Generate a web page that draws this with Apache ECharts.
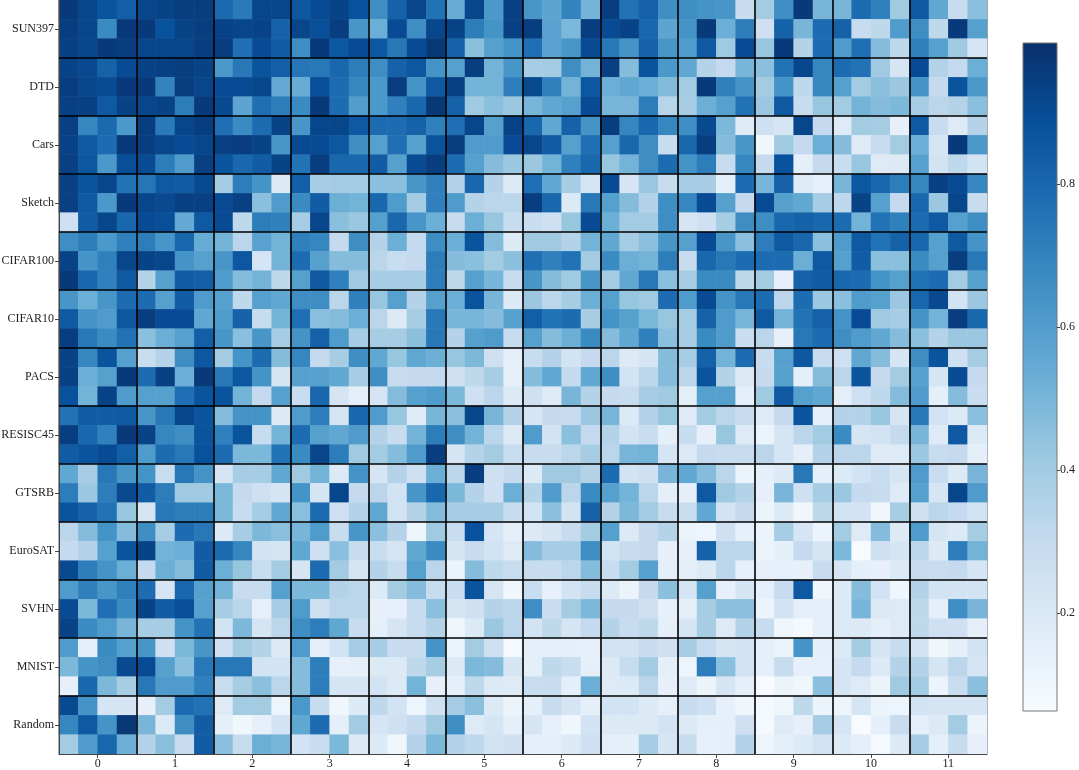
<!DOCTYPE html>
<html>
<head>
<meta charset="utf-8">
<title>heatmap</title>
<script src="https://cdn.jsdelivr.net/npm/echarts@6.0.0/dist/echarts.min.js"></script>
<style>
  html, body { margin: 0; padding: 0; background: #fff; }
  #chart { width: 1079px; height: 770px; }
</style>
</head>
<body>
<div id="chart"></div>
<script>
// row groups (3 rows each), column groups (4 columns each)
var rowGroups = ['SUN397', 'DTD', 'Cars', 'Sketch', 'CIFAR100', 'CIFAR10', 'PACS', 'RESISC45', 'GTSRB', 'EuroSAT', 'SVHN', 'MNIST', 'Random'];
var colGroups = ['0', '1', '2', '3', '4', '5', '6', '7', '8', '9', '10', '11'];
var colorTicks = [0.2, 0.4, 0.6, 0.8];

var sun397 = [
  [.96,.92,.87,.83,.92,.93,.95,.95,.79,.73,.92,.92,.86,.90,.93,.88, .66,.82,.92,.76,.54,.92,.62,.94,.63,.57,.70,.51,.95,.76,.82,.66, .66,.64,.63,.29,.40,.66,.96,.50,.50,.78,.71,.41,.85,.56,.29,.46],
  [.95,.92,.67,.96,.96,.88,.93,.95,.93,.92,.93,.82,.92,.89,.95,.63, .53,.90,.66,.92,.93,.72,.64,.94,.95,.58,.49,.95,.90,.93,.80,.57, .64,.96,.53,.72,.26,.82,.50,.78,.82,.29,.32,.61,.66,.32,.96,.59],
  [.94,.92,.96,.95,.92,.92,.92,.95,.95,.77,.90,.84,.66,.96,.86,.90, .86,.74,.90,.97,.82,.46,.59,.64,.77,.58,.63,.90,.74,.64,.82,.63, .61,.85,.41,.90,.43,.96,.35,.78,.61,.77,.47,.32,.71,.59,.41,.22]
];
var dtd = [
  [.93,.91,.82,.90,.93,.94,.95,.93,.62,.74,.87,.83,.75,.74,.80,.72, .66,.82,.86,.64,.59,.95,.51,.63,.39,.40,.66,.51,.94,.47,.87,.62, .56,.35,.30,.50,.46,.76,.92,.69,.78,.76,.41,.22,.90,.35,.30,.53],
  [.95,.92,.90,.96,.96,.70,.95,.92,.90,.90,.92,.55,.54,.89,.78,.69, .62,.95,.64,.85,.94,.51,.51,.72,.91,.71,.51,.86,.53,.56,.53,.48, .40,.96,.71,.64,.40,.64,.32,.69,.59,.40,.46,.42,.64,.30,.87,.62],
  [.94,.94,.85,.93,.92,.93,.72,.96,.91,.57,.77,.72,.67,.96,.78,.60, .62,.71,.80,.97,.82,.41,.46,.42,.50,.56,.59,.90,.50,.50,.72,.34, .39,.53,.59,.76,.42,.85,.29,.43,.40,.51,.47,.49,.39,.33,.35,.46]
];
var cars = [
  [.94,.69,.79,.62,.95,.73,.92,.95,.77,.67,.78,.93,.63,.92,.92,.85, .78,.78,.82,.71,.77,.92,.59,.93,.80,.56,.82,.64,.95,.69,.80,.69, .66,.91,.49,.18,.26,.22,.92,.30,.18,.40,.39,.14,.85,.29,.18,.35],
  [.93,.85,.78,.96,.95,.92,.90,.92,.94,.95,.93,.63,.91,.90,.86,.66, .59,.77,.59,.87,.95,.61,.61,.90,.92,.84,.59,.77,.59,.80,.66,.29, .80,.95,.47,.63,.10,.41,.30,.53,.47,.18,.29,.40,.53,.22,.96,.62],
  [.94,.86,.62,.89,.90,.72,.61,.94,.87,.80,.84,.93,.76,.95,.80,.80, .84,.59,.90,.95,.78,.59,.47,.42,.42,.51,.71,.80,.43,.51,.66,.78, .64,.72,.29,.69,.30,.88,.15,.30,.28,.43,.18,.19,.59,.24,.32,.24]
];
var sketch = [
  [.94,.87,.92,.76,.75,.85,.84,.91,.40,.72,.64,.19,.83,.39,.40,.40, .46,.46,.63,.71,.35,.80,.35,.19,.77,.56,.39,.22,.90,.22,.42,.29, .39,.39,.15,.78,.50,.82,.18,.14,.50,.86,.80,.72,.69,.94,.90,.69],
  [.94,.85,.62,.96,.92,.91,.94,.94,.90,.94,.46,.61,.67,.84,.53,.51, .80,.61,.40,.71,.61,.35,.33,.33,.95,.80,.19,.74,.59,.47,.35,.66, .69,.90,.59,.30,.90,.59,.56,.39,.32,.93,.59,.30,.80,.42,.92,.29],
  [.26,.84,.92,.80,.90,.89,.55,.85,.90,.32,.72,.71,.39,.92,.46,.42, .59,.80,.63,.53,.29,.53,.43,.29,.28,.26,.43,.90,.53,.40,.40,.66, .22,.26,.39,.66,.66,.80,.82,.80,.78,.51,.76,.71,.78,.85,.59,.66]
];
var cifar100 = [
  [.66,.72,.62,.71,.72,.63,.80,.54,.51,.33,.58,.51,.71,.69,.30,.66, .35,.53,.30,.66,.53,.87,.47,.19,.41,.41,.35,.51,.56,.39,.46,.63, .59,.90,.63,.46,.72,.85,.80,.46,.61,.85,.76,.82,.80,.59,.85,.64],
  [.93,.64,.71,.92,.93,.92,.64,.59,.63,.86,.22,.51,.78,.59,.47,.47, .33,.28,.30,.72,.47,.46,.40,.46,.77,.71,.76,.40,.67,.53,.51,.72, .29,.80,.74,.78,.78,.78,.53,.85,.59,.84,.46,.46,.67,.59,.95,.74],
  [.96,.80,.71,.85,.35,.59,.84,.83,.61,.47,.51,.32,.59,.85,.71,.41, .39,.39,.39,.72,.32,.59,.50,.29,.63,.47,.41,.63,.40,.56,.74,.46, .39,.67,.67,.32,.40,.14,.82,.84,.80,.78,.64,.59,.76,.78,.40,.59]
];
var cifar10 = [
  [.63,.53,.63,.78,.78,.59,.84,.61,.59,.32,.59,.56,.66,.66,.33,.71, .43,.59,.35,.59,.53,.87,.50,.19,.42,.33,.39,.53,.59,.43,.41,.78, .61,.90,.64,.74,.78,.33,.78,.42,.46,.61,.59,.42,.80,.91,.24,.42],
  [.85,.64,.61,.86,.95,.90,.90,.56,.61,.82,.29,.51,.77,.46,.47,.53, .33,.19,.39,.74,.50,.50,.47,.59,.83,.76,.78,.39,.64,.59,.49,.43, .39,.82,.61,.50,.85,.51,.76,.82,.64,.90,.41,.39,.64,.51,.95,.80],
  [.95,.74,.67,.76,.46,.53,.59,.83,.63,.46,.63,.39,.64,.82,.61,.39, .39,.39,.46,.74,.35,.59,.61,.29,.59,.47,.53,.67,.47,.56,.71,.46, .39,.67,.61,.28,.33,.14,.74,.78,.66,.61,.56,.47,.46,.35,.42,.42]
];
var pacs = [
  [.93,.69,.87,.59,.28,.35,.66,.86,.40,.64,.78,.47,.69,.30,.39,.66, .56,.43,.56,.53,.43,.49,.26,.15,.29,.35,.24,.30,.33,.19,.22,.47, .39,.82,.51,.78,.29,.59,.86,.29,.26,.56,.47,.22,.66,.87,.26,.39],
  [.94,.53,.59,.96,.78,.94,.53,.96,.74,.86,.64,.22,.59,.59,.56,.39, .66,.29,.30,.30,.26,.32,.39,.14,.47,.56,.30,.56,.66,.24,.33,.47, .33,.87,.35,.19,.30,.59,.15,.47,.33,.87,.30,.40,.59,.22,.90,.30],
  [.88,.51,.93,.61,.59,.59,.77,.87,.87,.51,.30,.59,.28,.80,.22,.15, .22,.47,.59,.61,.49,.26,.33,.19,.26,.18,.50,.35,.30,.29,.39,.41, .15,.59,.59,.15,.41,.85,.59,.56,.15,.26,.32,.47,.61,.15,.47,.28]
];
var resisc45 = [
  [.76,.84,.84,.85,.63,.74,.92,.87,.47,.64,.64,.19,.61,.72,.22,.80, .61,.43,.18,.50,.46,.92,.50,.35,.22,.30,.29,.42,.50,.19,.35,.43, .18,.40,.33,.29,.18,.30,.87,.15,.35,.35,.43,.22,.74,.24,.19,.46],
  [.95,.80,.71,.96,.93,.69,.66,.87,.71,.87,.29,.51,.78,.59,.56,.61, .35,.29,.51,.72,.66,.51,.33,.19,.61,.24,.46,.30,.35,.24,.28,.15, .29,.14,.43,.18,.12,.22,.33,.40,.67,.22,.24,.30,.50,.18,.85,.19],
  [.84,.87,.90,.83,.61,.78,.74,.88,.78,.49,.49,.76,.67,.92,.72,.41, .40,.47,.61,.95,.22,.35,.40,.28,.29,.29,.33,.39,.33,.50,.51,.22, .19,.30,.29,.29,.33,.22,.15,.35,.33,.33,.18,.18,.42,.29,.30,.15]
];
var gtsrb = [
  [.56,.39,.74,.63,.64,.28,.74,.64,.22,.39,.39,.56,.41,.51,.19,.64, .22,.35,.26,.53,.33,.95,.26,.30,.19,.41,.41,.35,.78,.24,.26,.50, .56,.47,.33,.12,.15,.19,.74,.15,.19,.24,.28,.22,.61,.28,.19,.50],
  [.72,.42,.72,.91,.84,.72,.41,.41,.49,.30,.26,.22,.64,.22,.92,.30, .33,.24,.63,.80,.49,.35,.26,.53,.35,.61,.33,.67,.59,.51,.33,.15, .15,.85,.41,.35,.14,.50,.26,.39,.42,.30,.29,.18,.59,.22,.92,.61],
  [.87,.82,.76,.43,.22,.74,.72,.72,.49,.29,.39,.56,.46,.78,.26,.35, .56,.24,.35,.47,.39,.39,.39,.29,.24,.46,.24,.82,.35,.49,.40,.29, .28,.56,.24,.30,.12,.19,.10,.32,.24,.24,.10,.39,.26,.33,.30,.24]
];
var eurosat = [
  [.33,.47,.64,.47,.66,.39,.78,.74,.19,.39,.49,.46,.50,.61,.29,.63, .46,.35,.11,.41,.28,.88,.22,.15,.19,.22,.29,.40,.59,.19,.30,.35, .12,.11,.26,.14,.12,.39,.22,.12,.40,.18,.47,.19,.61,.22,.19,.39],
  [.30,.35,.59,.87,.93,.51,.53,.84,.78,.69,.24,.22,.56,.26,.46,.29, .28,.22,.56,.67,.22,.29,.24,.18,.47,.39,.39,.66,.24,.29,.30,.14, .14,.82,.33,.33,.12,.15,.30,.22,.49,.06,.26,.22,.33,.19,.72,.51],
  [.91,.72,.64,.53,.30,.53,.47,.84,.53,.43,.28,.40,.22,.78,.40,.22, .35,.29,.59,.33,.12,.47,.32,.28,.29,.29,.33,.47,.29,.40,.59,.15, .15,.19,.33,.14,.14,.14,.14,.29,.22,.15,.14,.19,.29,.28,.30,.22]
];
var svhn = [
  [.61,.71,.63,.71,.78,.22,.80,.59,.51,.29,.29,.59,.49,.49,.35,.33, .19,.40,.47,.29,.28,.87,.22,.10,.28,.14,.24,.29,.19,.12,.30,.46, .22,.59,.14,.22,.15,.29,.85,.10,.19,.47,.24,.10,.35,.24,.24,.24],
  [.90,.49,.77,.67,.93,.84,.89,.59,.39,.33,.14,.39,.61,.26,.33,.33, .14,.14,.29,.46,.22,.26,.35,.33,.66,.28,.40,.49,.30,.30,.26,.14, .15,.39,.46,.46,.12,.24,.15,.15,.19,.50,.19,.18,.32,.15,.66,.50],
  [.93,.67,.61,.50,.39,.39,.64,.76,.24,.49,.22,.33,.66,.72,.56,.29, .15,.22,.29,.35,.10,.19,.42,.33,.24,.32,.22,.30,.35,.29,.32,.15, .22,.39,.18,.35,.29,.10,.08,.15,.19,.19,.15,.18,.32,.26,.26,.15]
];
var mnist = [
  [.61,.15,.67,.59,.63,.26,.49,.63,.26,.40,.35,.19,.61,.15,.24,.39, .39,.29,.29,.64,.12,.40,.26,.08,.15,.15,.15,.14,.24,.24,.29,.26, .39,.29,.22,.24,.15,.12,.64,.15,.19,.40,.22,.29,.24,.10,.15,.24],
  [.49,.64,.66,.91,.90,.59,.46,.74,.74,.74,.24,.24,.47,.72,.14,.15, .19,.19,.32,.39,.19,.49,.47,.22,.15,.32,.28,.15,.19,.29,.40,.15, .11,.72,.46,.24,.15,.29,.14,.14,.22,.30,.19,.35,.35,.22,.33,.22],
  [.14,.80,.49,.39,.74,.61,.61,.71,.28,.39,.46,.33,.47,.72,.22,.22, .24,.19,.51,.14,.15,.32,.19,.18,.28,.29,.15,.53,.18,.19,.33,.14, .18,.12,.22,.15,.06,.12,.10,.46,.22,.18,.12,.41,.40,.12,.28,.46]
];
var random = [
  [.91,.64,.22,.22,.14,.40,.78,.76,.18,.40,.40,.11,.62,.29,.10,.19, .32,.24,.11,.26,.39,.46,.19,.12,.15,.29,.22,.15,.24,.24,.19,.15, .29,.26,.14,.10,.08,.10,.32,.12,.11,.22,.12,.11,.24,.22,.22,.22],
  [.69,.85,.64,.97,.50,.19,.66,.84,.15,.10,.14,.24,.56,.78,.15,.40, .22,.26,.30,.41,.66,.18,.22,.15,.22,.14,.10,.24,.19,.19,.19,.24, .19,.15,.15,.26,.08,.18,.14,.39,.22,.06,.15,.29,.15,.19,.40,.12],
  [.40,.61,.80,.53,.35,.46,.29,.84,.46,.29,.53,.50,.24,.28,.49,.19, .19,.10,.35,.49,.35,.32,.24,.26,.15,.15,.19,.26,.15,.15,.39,.22, .29,.14,.15,.35,.11,.15,.19,.24,.19,.15,.08,.19,.39,.15,.29,.14]
];

var groupData = [sun397, dtd, cars, sketch, cifar100, cifar10, pacs, resisc45, gtsrb, eurosat, svhn, mnist, random];

// matplotlib "Blues"
var blues = ['#f7fbff', '#deebf7', '#c6dbef', '#9ecae1', '#6baed6', '#4292c6', '#2171b5', '#08519c', '#08306b'];
var vmin = 0.063, vmax = 0.997;

var rowsPerGroup = 3, colsPerGroup = 4;
var nCols = colGroups.length * colsPerGroup;

var colIds = [], rowIds = [], cells = [];
for (var c = 0; c < nCols; c++) colIds.push('c' + c);
groupData.forEach(function(group, g) {
    group.forEach(function(row, r) {
        var y = g * rowsPerGroup + r;
        rowIds.push(rowGroups[g] + '-' + r);
        row.forEach(function(v, x) {
            cells.push([x, y, v]);
        });
    });
});

var font = 'Liberation Serif';
var sepStyle = { color: '#000', width: 1.6 };
var spine = { show: true, onZero: false, lineStyle: { color: '#444', width: 1 } };
var noLine = { show: false, onZero: false };

var chart = echarts.init(document.getElementById('chart'));
chart.setOption({
    animation: false,
    backgroundColor: '#fff',
    textStyle: { fontFamily: font },
    grid: [
        { left: 59, right: 92, top: 0, bottom: 16, outerBoundsMode: 'none', containLabel: false,
          show: true, borderColor: '#444', borderWidth: 1, backgroundColor: 'transparent' },
        {
            left: 1023, width: 34, top: 43, height: 668, outerBoundsMode: 'none', containLabel: false,
            show: true, borderColor: '#777', borderWidth: 1,
            backgroundColor: {
                type: 'linear', x: 0, y: 1, x2: 0, y2: 0,
                colorStops: blues.map(function(col, i) { return { offset: i / (blues.length - 1), color: col }; })
            }
        }
    ],
    xAxis: [
        // cell axis
        { type: 'category', gridIndex: 0, position: 'top', data: colIds, show: false, axisLine: noLine },
        // group labels
        {
            type: 'category', gridIndex: 0, position: 'bottom', data: colGroups, z: 5,
            axisLine: spine,
            axisTick: { show: true, alignWithLabel: true, length: 4, lineStyle: { color: '#444' } },
            axisLabel: { interval: 0, margin: 4, fontSize: 12, color: '#222', fontFamily: font },
            splitLine: { show: false }
        },
        // group separators
        {
            type: 'value', gridIndex: 0, position: 'bottom', min: 0, max: colGroups.length, interval: 1, z: 6,
            axisLine: noLine, axisTick: { show: false }, axisLabel: { show: false },
            splitLine: { show: true, showMinLine: false, showMaxLine: false, lineStyle: sepStyle }
        },
        { type: 'value', gridIndex: 1, min: 0, max: 1, show: false, axisLine: noLine }
    ],
    yAxis: [
        { type: 'category', gridIndex: 0, position: 'right', data: rowIds, inverse: true, show: false, axisLine: noLine },
        {
            type: 'category', gridIndex: 0, position: 'left', data: rowGroups, inverse: true, z: 5,
            axisLine: spine,
            axisTick: { show: true, alignWithLabel: true, length: 4, lineStyle: { color: '#444' } },
            axisLabel: { interval: 0, margin: 5, fontSize: 12, color: '#222', fontFamily: font },
            splitLine: { show: false }
        },
        {
            type: 'value', gridIndex: 0, position: 'left', min: 0, max: rowGroups.length, interval: 1, inverse: true, z: 6,
            axisLine: noLine, axisTick: { show: false }, axisLabel: { show: false },
            splitLine: { show: true, showMinLine: false, showMaxLine: false, lineStyle: sepStyle }
        },
        {
            type: 'value', gridIndex: 1, position: 'right', min: vmin, max: vmax,
            axisLine: noLine,
            axisTick: { show: true, customValues: colorTicks, length: 3, lineStyle: { color: '#444' } },
            axisLabel: {
                customValues: colorTicks, margin: 3, fontSize: 12, color: '#222', fontFamily: font,
                formatter: function(v) { return v.toFixed(1); }
            },
            splitLine: { show: false }
        }
    ],
    visualMap: {
        show: false, type: 'continuous', min: vmin, max: vmax, dimension: 2, seriesIndex: 0,
        inRange: { color: blues }
    },
    series: [{
        type: 'heatmap',
        xAxisIndex: 0,
        yAxisIndex: 0,
        data: cells,
        itemStyle: { borderWidth: 0 },
        emphasis: { disabled: true }
    }]
});
</script>
</body>
</html>
